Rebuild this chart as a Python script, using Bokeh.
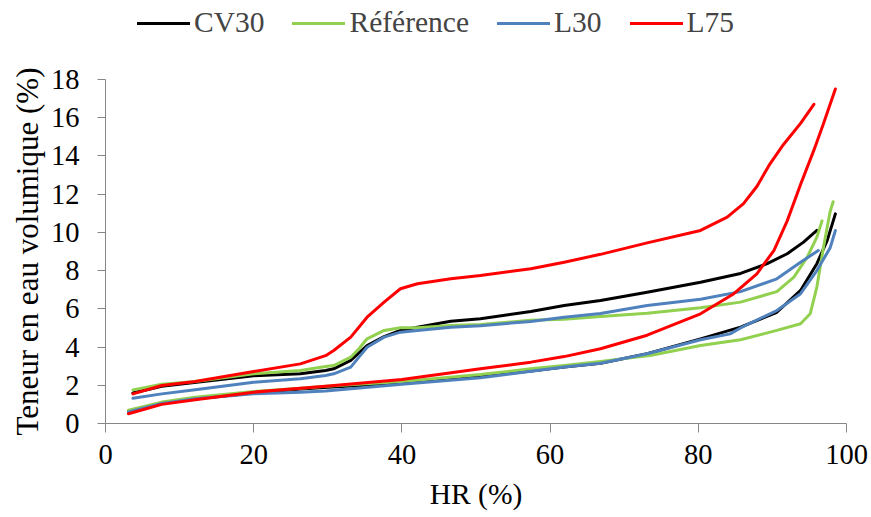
from bokeh.plotting import figure
from bokeh.models import Range1d, Legend, LegendItem, FixedTicker, Title
from bokeh.embed import file_html
from bokeh.resources import INLINE

# ---- data (HR %, teneur en eau volumique %) ----
cv30_ads_hr = [3.1, 7.6, 12.0, 20.0, 26.3, 30.0, 40.0, 50.6, 57.4, 61.9, 66.8, 73.1, 80.3, 85.7, 90.6, 93.8, 96.0, 97.4, 98.5]
cv30_ads_w  = [0.65, 1.05, 1.3, 1.6, 1.8, 1.9, 2.1, 2.45, 2.75, 2.95, 3.15, 3.65, 4.43, 5.04, 5.82, 6.96, 8.36, 9.58, 10.97]
cv30_des_hr = [3.7, 7.6, 12.0, 20.0, 26.3, 29.7, 30.8, 33.1, 35.3, 37.6, 39.8, 42.1, 46.6, 50.6, 57.4, 61.9, 66.8, 73.1, 80.3, 85.7, 89.3, 92.0, 94.2, 96.0]
cv30_des_w  = [1.6, 1.95, 2.15, 2.5, 2.6, 2.77, 2.86, 3.3, 4.08, 4.55, 4.87, 5.04, 5.35, 5.48, 5.86, 6.17, 6.44, 6.87, 7.39, 7.85, 8.36, 8.88, 9.49, 10.1]

ref_ads_hr = [3.1, 7.6, 12.1, 20.0, 26.3, 29.7, 40.0, 50.6, 57.4, 61.9, 66.8, 73.5, 80.3, 85.7, 90.6, 93.8, 95.1, 96.0, 96.9, 97.8, 98.2]
ref_ads_w  = [0.7, 1.12, 1.38, 1.67, 1.85, 1.95, 2.2, 2.56, 2.86, 3.03, 3.25, 3.56, 4.08, 4.38, 4.87, 5.22, 5.74, 7.14, 9.23, 11.1, 11.6]
ref_des_hr = [3.7, 7.6, 12.1, 20.0, 26.3, 29.7, 30.8, 33.1, 34.2, 35.3, 37.6, 39.8, 42.1, 46.6, 50.6, 57.4, 61.9, 66.8, 73.1, 80.3, 85.7, 90.6, 92.9, 94.7, 96.0, 96.7]
ref_des_w  = [1.76, 2.05, 2.2, 2.6, 2.77, 2.98, 3.03, 3.47, 3.91, 4.43, 4.87, 5.01, 5.01, 5.13, 5.18, 5.4, 5.45, 5.6, 5.77, 6.05, 6.35, 6.9, 7.66, 8.7, 9.75, 10.6]

l30_ads_hr = [3.1, 7.6, 12.1, 20.0, 26.3, 29.7, 40.0, 50.6, 61.9, 66.8, 73.1, 80.3, 84.3, 85.7, 90.6, 93.8, 96.0, 97.8, 98.5]
l30_ads_w  = [0.6, 1.05, 1.3, 1.55, 1.64, 1.7, 2.05, 2.39, 2.95, 3.15, 3.65, 4.38, 4.69, 5.0, 5.91, 6.79, 8.0, 9.2, 10.1]
l30_des_hr = [3.7, 7.6, 12.1, 20.0, 26.3, 29.7, 30.8, 33.1, 34.2, 35.3, 37.6, 39.8, 42.1, 46.6, 50.6, 57.4, 61.9, 66.8, 73.1, 80.3, 85.7, 90.6, 93.8, 96.2]
l30_des_w  = [1.32, 1.55, 1.76, 2.16, 2.34, 2.51, 2.6, 2.95, 3.47, 3.99, 4.52, 4.78, 4.87, 5.04, 5.12, 5.34, 5.56, 5.75, 6.17, 6.5, 6.9, 7.57, 8.44, 9.05]

l75_ads_hr = [3.1, 7.6, 12.1, 20.0, 26.3, 29.7, 40.0, 50.6, 57.4, 61.9, 66.8, 73.1, 80.3, 84.8, 87.9, 90.2, 92.0, 93.8, 95.6, 96.9, 98.5]
l75_ads_w  = [0.51, 1.0, 1.24, 1.64, 1.85, 1.95, 2.3, 2.86, 3.21, 3.5, 3.91, 4.62, 5.74, 6.79, 7.83, 9.05, 10.6, 12.5, 14.3, 15.7, 17.5]
l75_des_hr = [3.7, 7.6, 12.1, 20.0, 26.3, 29.7, 30.8, 33.1, 35.3, 37.6, 39.8, 42.1, 46.6, 50.6, 57.4, 61.9, 66.8, 73.1, 80.3, 83.9, 86.1, 87.9, 89.7, 91.5, 93.8, 95.6]
l75_des_w  = [1.55, 1.99, 2.2, 2.72, 3.12, 3.55, 3.82, 4.52, 5.56, 6.35, 7.05, 7.31, 7.57, 7.74, 8.1, 8.44, 8.85, 9.45, 10.1, 10.8, 11.5, 12.4, 13.6, 14.6, 15.7, 16.7]

series_names = ["CV30", "Référence", "L30", "L75"]
x_ticks = [0, 20, 40, 60, 80, 100]
y_ticks = [0, 2, 4, 6, 8, 10, 12, 14, 16, 18]
y_axis_max = 18

FONT = "Liberation Serif"
AXIS_COLOR = "#868686"

# frame reaches the top of the figure so the legend can sit above the 0-18 axis
p = figure(width=871, height=517, output_backend="svg", toolbar_location=None,
           x_range=Range1d(0, 100), y_range=Range1d(0, 22.13),
           min_border_left=105, min_border_right=25, min_border_top=0, min_border_bottom=94)
p.outline_line_color = None
p.grid.visible = False

series = [
    ("CV30", "#000000", cv30_ads_hr, cv30_ads_w, cv30_des_hr, cv30_des_w),
    ("Référence", "#92D050", ref_ads_hr, ref_ads_w, ref_des_hr, ref_des_w),
    ("L30", "#4F81BD", l30_ads_hr, l30_ads_w, l30_des_hr, l30_des_w),
    ("L75", "#FF0000", l75_ads_hr, l75_ads_w, l75_des_hr, l75_des_w),
]
items = []
for name, col, ahr, aw, dhr, dw in series:
    r1 = p.line(ahr, aw, line_color=col, line_width=3, line_cap="round", line_join="round")
    r2 = p.line(dhr, dw, line_color=col, line_width=3, line_cap="round", line_join="round")
    items.append(LegendItem(label=name, renderers=[r1]))

for ax in (p.xaxis[0], p.yaxis[0]):
    ax.axis_line_color = AXIS_COLOR
    ax.major_tick_line_color = AXIS_COLOR
    ax.minor_tick_line_color = None
    ax.major_tick_in = 0
    ax.major_label_text_font = FONT
    ax.major_label_text_font_size = "28.5px"
    ax.major_label_text_color = "#000000"
    ax.axis_label_text_font = FONT
    ax.axis_label_text_font_size = "29.5px"
    ax.axis_label_text_font_style = "normal"
    ax.axis_label_text_color = "#000000"

p.xaxis.ticker = FixedTicker(ticks=x_ticks)
p.yaxis.ticker = FixedTicker(ticks=y_ticks)
p.yaxis.bounds = (0, y_axis_max)
p.xaxis.major_tick_out = 9
p.yaxis.major_tick_out = 8
p.xaxis.major_label_standoff = 12
p.yaxis.major_label_standoff = 18
p.xaxis.axis_label = "HR (%)"
p.xaxis.axis_label_standoff = 11

# y-axis title as a left-side title, starting just below the axis bottom
ytitle = Title(text="Teneur en eau volumique (%)", align="left", offset=-12,
               text_font=FONT, text_font_size="31px", text_font_style="normal",
               text_color="#000000", standoff=5)
p.add_layout(ytitle, "left")

legend = Legend(items=items, orientation="horizontal", location=(32, 384),
                label_text_font=FONT, label_text_font_size="29.5px",
                glyph_width=53, glyph_height=20, label_standoff=4, spacing=28,
                padding=0, margin=0, border_line_color=None, background_fill_alpha=0)
p.add_layout(legend, "center")

open("out.html", "w").write(file_html(p, INLINE))
